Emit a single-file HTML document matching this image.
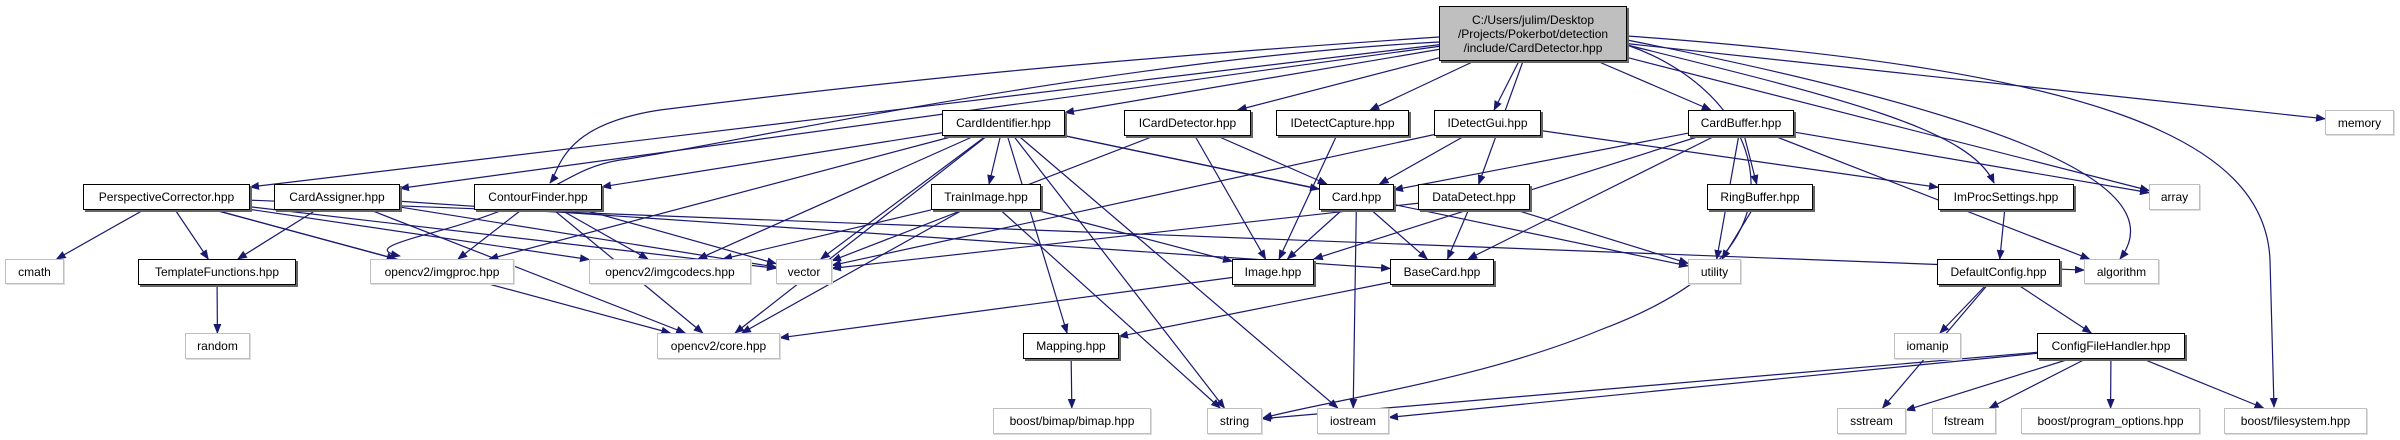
<!DOCTYPE html>
<html><head><meta charset="utf-8"><style>
html,body{margin:0;padding:0;background:#fff;}
#c{position:relative;width:2400px;height:440px;overflow:hidden;font-family:"Liberation Sans",sans-serif;}
.n{position:absolute;box-sizing:border-box;border:1px solid #000;box-shadow:2px 2px 0 #666;background:#fff;font-size:12px;display:flex;align-items:center;justify-content:center;white-space:nowrap;z-index:2;}
.g{border:1px solid #bfbfbf;box-shadow:1px 1px 0 #ddd;}
#top{background:#bfbfbf;flex-direction:column;line-height:14px;font-size:12px;}
svg{position:absolute;left:0;top:0;z-index:1;}
</style></head><body><div id="c">
<svg id="s" width="2400" height="440"><defs><marker id="a" markerWidth="10" markerHeight="8" refX="9" refY="4" orient="auto" markerUnits="userSpaceOnUse"><path d="M0,0L10,4L0,8z" fill="#191970"/></marker></defs>
<g fill="none" stroke="#191970" stroke-width="1.2" marker-end="url(#a)">
<path d="M1627,36 C2100,70 2265,140 2270,260 L2274,407"/>
<path d="M1627,40 C1980,110 2180,180 2120,259"/>
<path d="M1627,45 C1850,100 1970,130 1994,183"/>
<path d="M1627,45 C1700,70 1760,130 1750,200 C1740,260 1680,300 1600,330 C1480,380 1330,400 1263,418"/>
<path d="M1439,37 C1100,60 900,80 660,110 C560,125 560,170 550,183"/>
<path d="M1439,42 C1100,60 700,150 620,160 C560,170 560,200 420,236 C400,242 370,250 400,256"/>
</g></svg>
<div class="n" id="top" style="left:1439px;top:6px;width:188px;height:55px;"><span>C:/Users/julim/Desktop</span><span>/Projects/Pokerbot/detection</span><span>/include/CardDetector.hpp</span></div>
<div class="n" id="PC" style="left:83px;top:184px;width:167px;height:26px;">PerspectiveCorrector.hpp</div>
<div class="n" id="CA" style="left:274px;top:184px;width:126px;height:26px;">CardAssigner.hpp</div>
<div class="n" id="CF" style="left:474px;top:184px;width:128px;height:26px;">ContourFinder.hpp</div>
<div class="n g" id="cm" style="left:5px;top:259px;width:59px;height:25px;">cmath</div>
<div class="n" id="TF" style="left:138px;top:259px;width:158px;height:26px;">TemplateFunctions.hpp</div>
<div class="n g" id="ip" style="left:370px;top:259px;width:144px;height:25px;">opencv2/imgproc.hpp</div>
<div class="n g" id="ic" style="left:589px;top:259px;width:162px;height:25px;">opencv2/imgcodecs.hpp</div>
<div class="n g" id="ve" style="left:776px;top:259px;width:56px;height:25px;">vector</div>
<div class="n g" id="ra" style="left:185px;top:333px;width:65px;height:26px;">random</div>
<div class="n g" id="co" style="left:657px;top:333px;width:123px;height:26px;">opencv2/core.hpp</div>
<div class="n" id="CI" style="left:942px;top:110px;width:123px;height:26px;">CardIdentifier.hpp</div>
<div class="n" id="ICD" style="left:1124px;top:110px;width:127px;height:26px;">ICardDetector.hpp</div>
<div class="n" id="IDC" style="left:1276px;top:110px;width:133px;height:26px;">IDetectCapture.hpp</div>
<div class="n" id="IDG" style="left:1434px;top:110px;width:107px;height:26px;">IDetectGui.hpp</div>
<div class="n" id="TI" style="left:931px;top:184px;width:110px;height:26px;">TrainImage.hpp</div>
<div class="n" id="Ca" style="left:1319px;top:184px;width:75px;height:26px;">Card.hpp</div>
<div class="n" id="DD" style="left:1418px;top:184px;width:112px;height:26px;">DataDetect.hpp</div>
<div class="n" id="Im" style="left:1232px;top:259px;width:82px;height:26px;">Image.hpp</div>
<div class="n" id="BC" style="left:1390px;top:259px;width:104px;height:26px;">BaseCard.hpp</div>
<div class="n" id="Ma" style="left:1023px;top:333px;width:96px;height:26px;">Mapping.hpp</div>
<div class="n g" id="bi" style="left:993px;top:408px;width:158px;height:26px;">boost/bimap/bimap.hpp</div>
<div class="n g" id="st" style="left:1207px;top:408px;width:55px;height:26px;">string</div>
<div class="n g" id="io" style="left:1317px;top:408px;width:72px;height:26px;">iostream</div>
<div class="n" id="CB" style="left:1688px;top:110px;width:106px;height:26px;">CardBuffer.hpp</div>
<div class="n g" id="me" style="left:2325px;top:110px;width:69px;height:25px;">memory</div>
<div class="n" id="RB" style="left:1707px;top:184px;width:106px;height:26px;">RingBuffer.hpp</div>
<div class="n" id="IP" style="left:1938px;top:184px;width:136px;height:26px;">ImProcSettings.hpp</div>
<div class="n g" id="ar" style="left:2149px;top:184px;width:51px;height:26px;">array</div>
<div class="n g" id="ut" style="left:1688px;top:259px;width:53px;height:25px;">utility</div>
<div class="n" id="DC" style="left:1937px;top:259px;width:123px;height:26px;">DefaultConfig.hpp</div>
<div class="n g" id="al" style="left:2084px;top:259px;width:75px;height:25px;">algorithm</div>
<div class="n g" id="im" style="left:1894px;top:333px;width:67px;height:26px;">iomanip</div>
<div class="n" id="CFH" style="left:2037px;top:333px;width:148px;height:26px;">ConfigFileHandler.hpp</div>
<div class="n g" id="ss" style="left:1837px;top:408px;width:69px;height:26px;">sstream</div>
<div class="n g" id="fs" style="left:1932px;top:408px;width:64px;height:26px;">fstream</div>
<div class="n g" id="po" style="left:2021px;top:408px;width:179px;height:26px;">boost/program_options.hpp</div>
<div class="n g" id="bf" style="left:2224px;top:408px;width:143px;height:26px;">boost/filesystem.hpp</div>
</div>
<script>
var E=[["top","PC"],["top","CA"],["top","CI"],["top","ICD"],["top","IDC"],["top","IDG"],["top","DD"],["top","CB"],["top","ar"],["top","me"],
["PC","cm"],["PC","TF"],["PC","ip"],["PC","ic"],["PC","ve"],["PC","co"],["PC","al"],
["CA","TF"],["CA","co"],["CA","ve"],["CA","BC"],
["CF","ip"],["CF","ic"],["CF","ve"],["CF","co"],
["CI","CF"],["CI","ip"],["CI","ic"],["CI","ve"],["CI","TI"],["CI","co"],["CI","Ma"],["CI","st"],["CI","io"],["CI","Ca"],["CI","ut"],
["ICD","ve"],["ICD","Im"],["ICD","Ca"],["IDC","Im"],["IDG","Ca"],["IDG","IP"],["IDG","ve"],
["TI","Im"],["TI","co"],["TI","st"],["TI","ic"],
["Ca","Im"],["Ca","BC"],["Ca","io"],["DD","BC"],["DD","ve"],["DD","ut"],
["Im","co"],["BC","Ma"],["Ma","bi"],
["CB","Ca"],["CB","RB"],["CB","ut"],["CB","Im"],["CB","BC"],["CB","ar"],["CB","al"],["RB","ut"],
["IP","DC"],["DC","im"],["DC","ss"],["DC","CFH"],
["CFH","ss"],["CFH","fs"],["CFH","po"],["CFH","bf"],["CFH","st"],["CFH","io"],["TF","ra"]];
var s=document.getElementById("s");
function box(id){var e=document.getElementById(id);return {x:e.offsetLeft,y:e.offsetTop,w:e.offsetWidth,h:e.offsetHeight};}
function clip(b,dx,dy){var cx=b.x+b.w/2,cy=b.y+b.h/2;var tx=Math.abs(dx)>1e-6?(b.w/2)/Math.abs(dx):1e9,ty=Math.abs(dy)>1e-6?(b.h/2)/Math.abs(dy):1e9;var t=Math.min(tx,ty);return [cx+dx*t,cy+dy*t];}
E.forEach(function(p){var a=box(p[0]),b=box(p[1]);var ax=a.x+a.w/2,ay=a.y+a.h/2,bx=b.x+b.w/2,by=b.y+b.h/2;var dx=bx-ax,dy=by-ay;var p1=clip(a,dx,dy),p2=clip(b,-dx,-dy);
var l=document.createElementNS("http://www.w3.org/2000/svg","path");l.setAttribute("d","M"+p1[0]+","+p1[1]+"L"+p2[0]+","+p2[1]);l.setAttribute("stroke","#191970");l.setAttribute("stroke-width","1.2");l.setAttribute("fill","none");l.setAttribute("marker-end","url(#a)");s.appendChild(l);});
</script>
</body></html>
